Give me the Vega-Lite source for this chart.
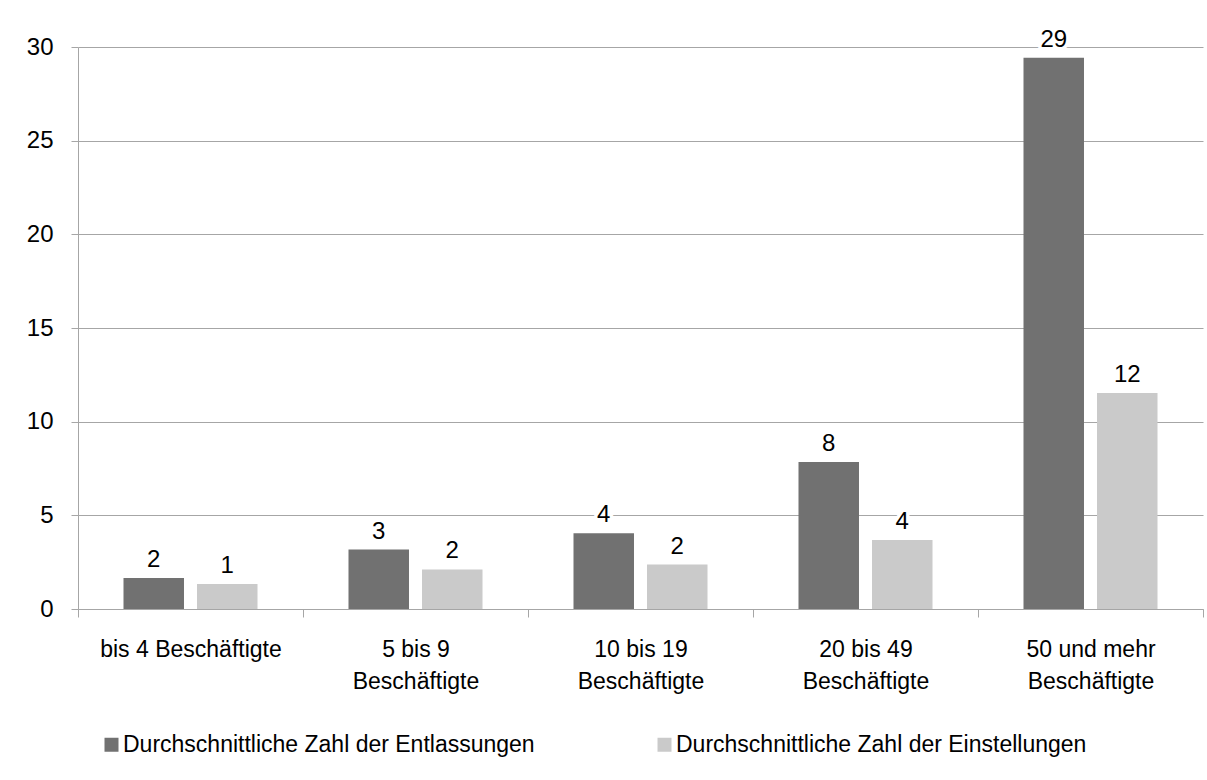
{
  "$schema": "https://vega.github.io/schema/vega-lite/v6.json",
  "width": 1125,
  "height": 562,
  "autosize": {"type": "none"},
  "padding": {"left": 78, "top": 47, "right": 4, "bottom": 171},
  "background": "white",
  "config": {"font": "Liberation Sans", "view": {"stroke": null}},
  "data": {
    "values": [
      {"Kategorie": "bis 4 Beschäftigte", "Reihe": "Durchschnittliche Zahl der Entlassungen", "Wert": 1.66},
      {"Kategorie": "bis 4 Beschäftigte", "Reihe": "Durchschnittliche Zahl der Einstellungen", "Wert": 1.33},
      {"Kategorie": "5 bis 9 Beschäftigte", "Reihe": "Durchschnittliche Zahl der Entlassungen", "Wert": 3.17},
      {"Kategorie": "5 bis 9 Beschäftigte", "Reihe": "Durchschnittliche Zahl der Einstellungen", "Wert": 2.11},
      {"Kategorie": "10 bis 19 Beschäftigte", "Reihe": "Durchschnittliche Zahl der Entlassungen", "Wert": 4.04},
      {"Kategorie": "10 bis 19 Beschäftigte", "Reihe": "Durchschnittliche Zahl der Einstellungen", "Wert": 2.37},
      {"Kategorie": "20 bis 49 Beschäftigte", "Reihe": "Durchschnittliche Zahl der Entlassungen", "Wert": 7.85},
      {"Kategorie": "20 bis 49 Beschäftigte", "Reihe": "Durchschnittliche Zahl der Einstellungen", "Wert": 3.68},
      {"Kategorie": "50 und mehr Beschäftigte", "Reihe": "Durchschnittliche Zahl der Entlassungen", "Wert": 29.43},
      {"Kategorie": "50 und mehr Beschäftigte", "Reihe": "Durchschnittliche Zahl der Einstellungen", "Wert": 11.53}
    ]
  },
  "encoding": {
    "x": {
      "field": "Kategorie",
      "type": "nominal",
      "sort": null,
      "scale": {"paddingInner": 0, "paddingOuter": 0},
      "axis": {
        "title": null,
        "labelAngle": 0,
        "labelFontSize": 23,
        "labelColor": "black",
        "labelLineHeight": 32,
        "labelPadding": 21,
        "labelLimit": 400,
        "labelExpr": "!isString(datum.value) ? '' : indexof(datum.value, 'bis 4') == 0 ? [datum.value] : [slice(datum.value, 0, indexof(datum.value, ' Besch')), 'Beschäftigte']",
        "tickBand": "extent",
        "tickSize": 8,
        "tickColor": "#a6a6a6",
        "domainColor": "#a6a6a6",
        "grid": false
      }
    },
    "xOffset": {
      "field": "Reihe",
      "type": "nominal",
      "sort": ["Durchschnittliche Zahl der Entlassungen", "Durchschnittliche Zahl der Einstellungen"],
      "scale": {"paddingInner": 0.177, "paddingOuter": 0.619}
    },
    "y": {
      "field": "Wert",
      "type": "quantitative",
      "scale": {"domain": [0, 30]},
      "axis": {
        "title": null,
        "values": [0, 5, 10, 15, 20, 25, 30],
        "grid": true,
        "gridColor": "#a6a6a6",
        "domainColor": "#a6a6a6",
        "tickColor": "#a6a6a6",
        "tickSize": 7,
        "labelFontSize": 24,
        "labelColor": "black",
        "labelPadding": 18
      }
    }
  },
  "layer": [
    {
      "mark": {"type": "bar"},
      "encoding": {
        "color": {
          "field": "Reihe",
          "type": "nominal",
          "scale": {
            "domain": ["Durchschnittliche Zahl der Entlassungen", "Durchschnittliche Zahl der Einstellungen"],
            "range": ["#717171", "#cacaca"]
          },
          "legend": {
            "title": null,
            "orient": "none",
            "legendX": 22,
            "legendY": 686,
            "direction": "horizontal",
            "symbolType": "square",
            "symbolSize": 196,
            "symbolStrokeWidth": 0,
            "labelFontSize": 23,
            "labelColor": "black",
            "labelOffset": 0,
            "columnPadding": 118,
            "labelLimit": 600
          }
        }
      }
    },
    {
      "mark": {"type": "text", "fontSize": 24, "baseline": "alphabetic", "dy": -11, "stroke": "white", "strokeWidth": 7, "fill": "white", "strokeJoin": "round"},
      "encoding": {"text": {"field": "Wert", "type": "quantitative", "format": ".0f"}}
    },
    {
      "mark": {"type": "text", "fontSize": 24, "baseline": "alphabetic", "dy": -11, "fill": "black"},
      "encoding": {"text": {"field": "Wert", "type": "quantitative", "format": ".0f"}}
    }
  ]
}
